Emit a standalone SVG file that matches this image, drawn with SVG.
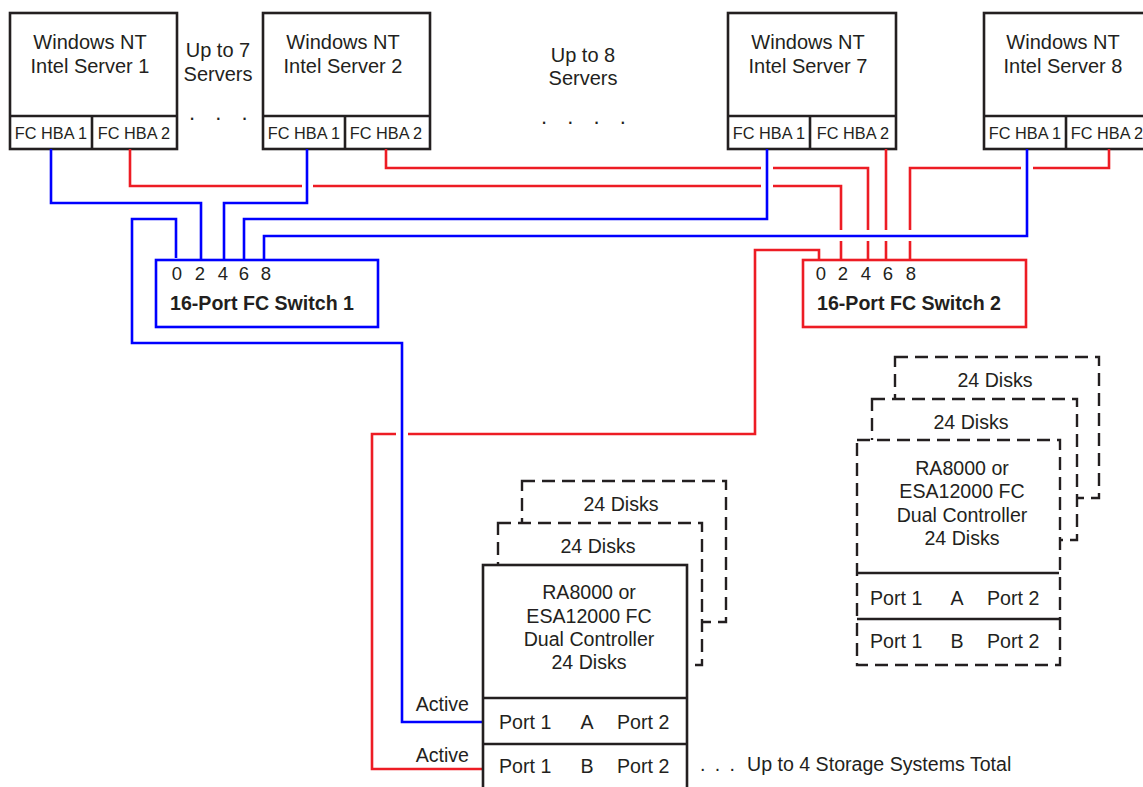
<svg xmlns="http://www.w3.org/2000/svg" width="1143" height="787" viewBox="0 0 1143 787">
<style>
text{font-family:"Liberation Sans",Arial,Helvetica,sans-serif;fill:#231f20}
.t{font-size:19.6px}
.s{font-size:20px;text-anchor:middle}
.h{font-size:16.3px;text-anchor:middle}
.c{text-anchor:middle}
.p{font-size:18.5px;text-anchor:middle}
.b{font-size:19.6px;font-weight:bold}
.box{fill:#fff;stroke:#231f20;stroke-width:2.6}
.ln{fill:none;stroke:#231f20;stroke-width:2.6}
.dash{fill:#fff;stroke:#231f20;stroke-width:2.4;stroke-dasharray:13 7}
.blue{fill:none;stroke:#0000ff;stroke-width:2.6}
.red{fill:none;stroke:#ed1c24;stroke-width:2.6}
.sw1{fill:#fff;stroke:#0000ff;stroke-width:2.6}
.sw2{fill:#fff;stroke:#ed1c24;stroke-width:2.6}
</style>
<rect width="1143" height="787" fill="#fff"/>

<g id="server1">
<rect class="box" x="10" y="13" width="167" height="136"/>
<line class="ln" x1="10" y1="116" x2="177" y2="116"/>
<line class="ln" x1="92" y1="116" x2="92" y2="149"/>
<text class="s" x="90" y="49">Windows NT</text>
<text class="s" x="90" y="73">Intel Server 1</text>
<text class="h" x="51" y="139">FC HBA 1</text>
<text class="h" x="134" y="139">FC HBA 2</text>
</g>
<g id="server2">
<rect class="box" x="263" y="13" width="167" height="136"/>
<line class="ln" x1="263" y1="116" x2="430" y2="116"/>
<line class="ln" x1="345" y1="116" x2="345" y2="149"/>
<text class="s" x="343" y="49">Windows NT</text>
<text class="s" x="343" y="73">Intel Server 2</text>
<text class="h" x="304" y="139">FC HBA 1</text>
<text class="h" x="386" y="139">FC HBA 2</text>
</g>
<g id="server7">
<rect class="box" x="728" y="13" width="168" height="136"/>
<line class="ln" x1="728" y1="116" x2="896" y2="116"/>
<line class="ln" x1="810" y1="116" x2="810" y2="149"/>
<text class="s" x="808" y="49">Windows NT</text>
<text class="s" x="808" y="73">Intel Server 7</text>
<text class="h" x="769" y="139">FC HBA 1</text>
<text class="h" x="853" y="139">FC HBA 2</text>
</g>
<g id="server8">
<rect class="box" x="984" y="13" width="167" height="136"/>
<line class="ln" x1="984" y1="116" x2="1151" y2="116"/>
<line class="ln" x1="1066" y1="116" x2="1066" y2="149"/>
<text class="s" x="1063" y="49">Windows NT</text>
<text class="s" x="1063" y="73">Intel Server 8</text>
<text class="h" x="1025" y="139">FC HBA 1</text>
<text class="h" x="1107" y="139">FC HBA 2</text>
</g>

<g id="server-notes">
<text class="s" x="218" y="57">Up to 7</text>
<text class="s" x="218" y="81">Servers</text>
<text class="t" x="189" y="120" style="font-size:22px;letter-spacing:7px">. . .</text>
<text class="s" x="583" y="62">Up to 8</text>
<text class="s" x="583" y="85">Servers</text>
<text class="t" x="541" y="124" style="font-size:22px;letter-spacing:7px">. . . .</text>
</g>

<g id="connectors">
<path class="blue" d="M51,149 V203 H201 V260"/>
<path class="blue" d="M307,149 V203 H224 V260"/>
<path class="blue" d="M176,258 V219 H132 V343 H402 V722 H483"/>
<path class="blue" d="M244,260 V219 H767 V149"/>
<path class="blue" d="M264,260 V236 H1027 V149"/>
<path class="red" d="M130,149 V186 H302 M313,186 H761 M773,186 H841 V230 M841,241 V260"/>
<path class="red" d="M386,149 V168 H761 M773,168 H868 V230 M868,241 V260"/>
<path class="red" d="M886,149 V230 M886,241 V260"/>
<path class="red" d="M1109,149 V168 H1033 M1021,168 H910 V230 M910,241 V260"/>
<path class="red" d="M819,260 V250 H755 V434 H408 M396,434 H372 V769 H483"/>
</g>

<g id="switch1">
<rect class="sw1" x="156" y="260" width="222" height="67"/>
<text class="p" x="177" y="280">0</text>
<text class="p" x="200" y="280">2</text>
<text class="p" x="223" y="280">4</text>
<text class="p" x="244" y="280">6</text>
<text class="p" x="266" y="280">8</text>
<text class="b" x="170" y="310">16-Port FC Switch 1</text>
</g>
<g id="switch2">
<rect class="sw2" x="803" y="260" width="223" height="67"/>
<text class="p" x="821" y="280">0</text>
<text class="p" x="843" y="280">2</text>
<text class="p" x="866" y="280">4</text>
<text class="p" x="888" y="280">6</text>
<text class="p" x="911" y="280">8</text>
<text class="b" x="817" y="310">16-Port FC Switch 2</text>
</g>

<g id="storage1">
<rect class="dash" x="522" y="481" width="204" height="141"/>
<rect class="dash" x="498" y="523" width="204" height="142"/>
<rect class="box" x="483" y="565" width="204" height="240"/>
<line class="ln" x1="483" y1="698" x2="687" y2="698"/>
<line class="ln" x1="483" y1="744" x2="687" y2="744"/>
<text class="t c" x="621" y="511">24 Disks</text>
<text class="t c" x="598" y="553">24 Disks</text>
<text class="t c" x="589" y="599">RA8000 or</text>
<text class="t c" x="589" y="623">ESA12000 FC</text>
<text class="t c" x="589" y="646">Dual Controller</text>
<text class="t c" x="589" y="669">24 Disks</text>
<text class="t" x="499" y="729">Port 1</text>
<text class="t c" x="587" y="729">A</text>
<text class="t" x="617" y="729">Port 2</text>
<text class="t" x="499" y="773">Port 1</text>
<text class="t c" x="587" y="773">B</text>
<text class="t" x="617" y="773">Port 2</text>
</g>

<g id="storage2">
<rect class="dash" x="895" y="357" width="204" height="141"/>
<rect class="dash" x="872" y="399" width="205" height="141"/>
<rect class="dash" x="857" y="440" width="203" height="225"/>
<line class="ln" x1="857" y1="573" x2="1059" y2="573"/>
<line class="ln" x1="857" y1="619" x2="1060" y2="619"/>
<text class="t c" x="995" y="387">24 Disks</text>
<text class="t c" x="971" y="429">24 Disks</text>
<text class="t c" x="962" y="475">RA8000 or</text>
<text class="t c" x="962" y="498">ESA12000 FC</text>
<text class="t c" x="962" y="522">Dual Controller</text>
<text class="t c" x="962" y="545">24 Disks</text>
<text class="t" x="870" y="605">Port 1</text>
<text class="t c" x="957" y="605">A</text>
<text class="t" x="987" y="605">Port 2</text>
<text class="t" x="870" y="648">Port 1</text>
<text class="t c" x="957" y="648">B</text>
<text class="t" x="987" y="648">Port 2</text>
</g>

<g id="labels">
<text class="t" x="469" y="711" text-anchor="end">Active</text>
<text class="t" x="469" y="762" text-anchor="end">Active</text>
<text class="t" x="700" y="771" style="letter-spacing:1.9px">. . .</text>
<text class="t" x="747" y="771">Up to 4 Storage Systems Total</text>
</g>
</svg>
